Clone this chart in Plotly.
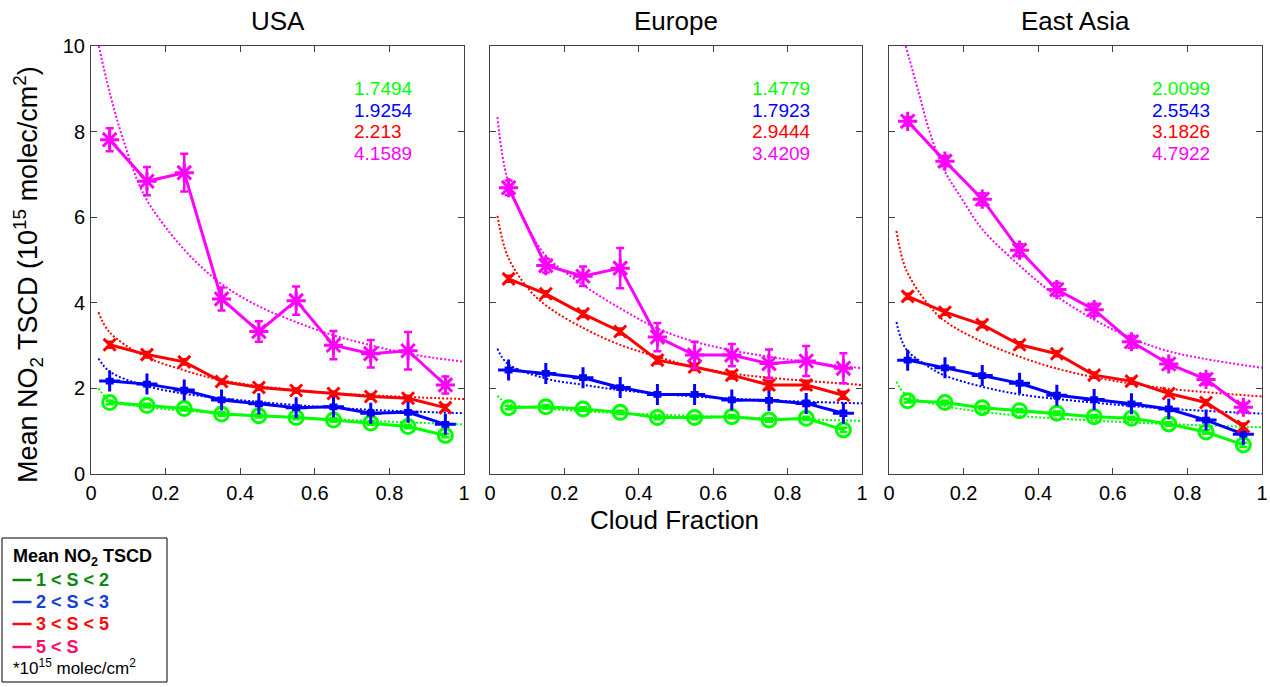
import plotly.graph_objects as go

# ---------------- data ----------------
cloud_fraction = [0.05, 0.15, 0.25, 0.35, 0.45, 0.55, 0.65, 0.75, 0.85, 0.95]
regions = ["USA", "Europe", "East Asia"]
series_labels = ["1 < S < 2", "2 < S < 3", "3 < S < 5", "5 < S"]

usa_s12 = [1.67, 1.60, 1.53, 1.40, 1.36, 1.32, 1.26, 1.19, 1.11, 0.90]
usa_s23 = [2.17, 2.10, 1.96, 1.73, 1.64, 1.55, 1.57, 1.42, 1.44, 1.16]
usa_s35 = [3.02, 2.79, 2.62, 2.16, 2.02, 1.95, 1.88, 1.81, 1.77, 1.55]
usa_s5 = [7.81, 6.84, 7.04, 4.09, 3.33, 4.05, 3.01, 2.81, 2.88, 2.08]
usa_s12_err = [0.04, 0.04, 0.04, 0.04, 0.04, 0.04, 0.04, 0.04, 0.04, 0.04]
usa_s23_err = [0.05, 0.05, 0.05, 0.05, 0.05, 0.05, 0.05, 0.05, 0.05, 0.05]
usa_s35_err = [0.07, 0.06, 0.06, 0.05, 0.05, 0.05, 0.05, 0.05, 0.06, 0.06]
usa_s5_err = [0.27, 0.33, 0.44, 0.27, 0.24, 0.33, 0.33, 0.32, 0.44, 0.20]

eu_s12 = [1.55, 1.57, 1.52, 1.44, 1.32, 1.32, 1.34, 1.26, 1.30, 1.03]
eu_s23 = [2.43, 2.35, 2.25, 2.02, 1.86, 1.86, 1.73, 1.72, 1.65, 1.42]
eu_s35 = [4.56, 4.21, 3.74, 3.33, 2.66, 2.50, 2.31, 2.08, 2.08, 1.84]
eu_s5 = [6.69, 4.87, 4.62, 4.81, 3.20, 2.78, 2.78, 2.58, 2.64, 2.47]
eu_s12_err = [0.04, 0.04, 0.04, 0.04, 0.04, 0.04, 0.04, 0.04, 0.04, 0.05]
eu_s23_err = [0.05, 0.05, 0.05, 0.05, 0.05, 0.05, 0.05, 0.05, 0.06, 0.06]
eu_s35_err = [0.07, 0.06, 0.07, 0.07, 0.08, 0.07, 0.08, 0.10, 0.10, 0.08]
eu_s5_err = [0.17, 0.16, 0.23, 0.47, 0.33, 0.31, 0.26, 0.33, 0.35, 0.35]

ea_s12 = [1.71, 1.67, 1.55, 1.48, 1.42, 1.34, 1.30, 1.17, 0.98, 0.68]
ea_s23 = [2.66, 2.48, 2.30, 2.12, 1.84, 1.74, 1.64, 1.52, 1.26, 0.93]
ea_s35 = [4.15, 3.78, 3.49, 3.02, 2.81, 2.31, 2.17, 1.88, 1.67, 1.11]
ea_s5 = [8.24, 7.31, 6.42, 5.23, 4.31, 3.84, 3.09, 2.57, 2.21, 1.56]
ea_s12_err = [0.04, 0.04, 0.04, 0.04, 0.04, 0.04, 0.04, 0.04, 0.04, 0.05]
ea_s23_err = [0.05, 0.05, 0.05, 0.05, 0.05, 0.05, 0.05, 0.05, 0.05, 0.05]
ea_s35_err = [0.06, 0.06, 0.06, 0.06, 0.06, 0.06, 0.06, 0.06, 0.06, 0.07]
ea_s5_err = [0.10, 0.12, 0.14, 0.14, 0.15, 0.14, 0.14, 0.10, 0.12, 0.10]

# dotted fitted curves
usa_fit12_x = [0.02, 0.049, 0.139, 0.35, 0.55, 0.75, 1.0]
usa_fit12_y = [2.0, 1.73, 1.57, 1.42, 1.32, 1.24, 1.16]
usa_fit23_x = [0.02, 0.049, 0.139, 0.247, 0.35, 0.55, 0.75, 1.0]
usa_fit23_y = [2.70, 2.40, 2.08, 1.88, 1.77, 1.61, 1.50, 1.42]
usa_fit35_x = [0.02, 0.049, 0.139, 0.247, 0.35, 0.55, 0.75, 1.0]
usa_fit35_y = [3.78, 3.32, 2.77, 2.43, 2.19, 1.96, 1.84, 1.75]
usa_fit5_x = [0.021, 0.049, 0.085, 0.139, 0.197, 0.265, 0.35, 0.445, 0.55, 0.65, 0.75, 0.85, 1.0]
usa_fit5_y = [10.0, 8.95, 7.85, 6.57, 5.80, 5.10, 4.44, 3.94, 3.55, 3.24, 3.01, 2.81, 2.62]

eu_fit12_x = [0.02, 0.047, 0.15, 0.352, 0.55, 0.75, 1.0]
eu_fit12_y = [1.83, 1.65, 1.53, 1.42, 1.36, 1.30, 1.24]
eu_fit23_x = [0.02, 0.047, 0.15, 0.253, 0.352, 0.55, 0.75, 1.0]
eu_fit23_y = [2.93, 2.58, 2.23, 2.08, 1.96, 1.81, 1.72, 1.65]
eu_fit35_x = [0.02, 0.047, 0.1, 0.15, 0.253, 0.352, 0.45, 0.55, 0.65, 0.75, 1.0]
eu_fit35_y = [6.03, 5.10, 4.36, 3.94, 3.40, 3.01, 2.74, 2.50, 2.35, 2.25, 2.08]
eu_fit5_x = [0.02, 0.047, 0.1, 0.15, 0.253, 0.352, 0.45, 0.55, 0.65, 0.75, 0.85, 1.0]
eu_fit5_y = [8.34, 6.88, 5.80, 5.10, 4.40, 3.86, 3.40, 3.09, 2.89, 2.74, 2.62, 2.47]

ea_fit12_x = [0.02, 0.045, 0.147, 0.35, 0.545, 0.74, 1.0]
ea_fit12_y = [2.16, 1.86, 1.59, 1.36, 1.25, 1.17, 1.09]
ea_fit23_x = [0.02, 0.045, 0.1, 0.147, 0.25, 0.35, 0.545, 0.74, 1.0]
ea_fit23_y = [3.55, 2.93, 2.54, 2.31, 2.04, 1.86, 1.67, 1.53, 1.41]
ea_fit35_x = [0.02, 0.045, 0.1, 0.147, 0.25, 0.35, 0.447, 0.545, 0.643, 0.74, 1.0]
ea_fit35_y = [5.68, 4.79, 4.02, 3.59, 3.09, 2.74, 2.47, 2.27, 2.12, 2.0, 1.81]
ea_fit5_x = [0.045, 0.08, 0.107, 0.147, 0.196, 0.25, 0.35, 0.447, 0.545, 0.643, 0.74, 0.84, 1.0]
ea_fit5_y = [10.0, 8.9, 8.05, 7.12, 6.42, 5.72, 4.87, 4.17, 3.63, 3.20, 2.89, 2.70, 2.48]

usa_coef = ["1.7494", "1.9254", "2.213", "4.1589"]
eu_coef = ["1.4779", "1.7923", "2.9444", "3.4209"]
ea_coef = ["2.0099", "2.5543", "3.1826", "4.7922"]

x_tick_vals = [0, 0.2, 0.4, 0.6, 0.8, 1.0]
x_tick_text = ["0", "0.2", "0.4", "0.6", "0.8", "1"]
y_tick_vals = [0, 2, 4, 6, 8, 10]
y_tick_text = ["0", "2", "4", "6", "8", "10"]

# ---------------- styles ----------------
colors = ["#00FF00", "#0000FF", "#FF0000", "#FF00FF"]
legend_colors = ["#0A8A0A", "#1442D0", "#FF0A0A", "#FF0A6E"]
symbols = ["circle-open", "cross-thin-open", "x-thin-open", "asterisk-open"]
msizes = [14, 15, 12, 16]
FONT = "Arial, Liberation Sans, sans-serif"

panel_data = [
    ([usa_s12, usa_s23, usa_s35, usa_s5], [usa_s12_err, usa_s23_err, usa_s35_err, usa_s5_err],
     [(usa_fit12_x, usa_fit12_y), (usa_fit23_x, usa_fit23_y), (usa_fit35_x, usa_fit35_y), (usa_fit5_x, usa_fit5_y)],
     usa_coef),
    ([eu_s12, eu_s23, eu_s35, eu_s5], [eu_s12_err, eu_s23_err, eu_s35_err, eu_s5_err],
     [(eu_fit12_x, eu_fit12_y), (eu_fit23_x, eu_fit23_y), (eu_fit35_x, eu_fit35_y), (eu_fit5_x, eu_fit5_y)],
     eu_coef),
    ([ea_s12, ea_s23, ea_s35, ea_s5], [ea_s12_err, ea_s23_err, ea_s35_err, ea_s5_err],
     [(ea_fit12_x, ea_fit12_y), (ea_fit23_x, ea_fit23_y), (ea_fit35_x, ea_fit35_y), (ea_fit5_x, ea_fit5_y)],
     ea_coef),
]

W, H = 1270, 687
ML, MR, MT, MB = 91, 8, 46, 213
PW = W - ML - MR
PH = H - MT - MB


def px_x(px):
    return (px - ML) / PW


def px_y(py):
    return (H - MB - py) / PH


domains = [[0, px_x(464)], [px_x(490), px_x(862)], [px_x(889), 1.0]]

fig = go.Figure()
annotations = []

for i, (vals, errs, fits, coefs) in enumerate(panel_data):
    xa = "x" if i == 0 else f"x{i+1}"
    ya = "y" if i == 0 else f"y{i+1}"
    for k in range(4):
        fx, fy = fits[k]
        fig.add_trace(go.Scatter(
            x=fx, y=fy, mode="lines", xaxis=xa, yaxis=ya, showlegend=False,
            line=dict(color=colors[k], width=2, dash="2px,2px", shape="spline", smoothing=1.0),
            hoverinfo="skip"))
    for k in range(4):
        fig.add_trace(go.Scatter(
            x=cloud_fraction, y=vals[k], mode="lines+markers", xaxis=xa, yaxis=ya,
            showlegend=False, name=series_labels[k],
            line=dict(color=colors[k], width=3),
            marker=dict(symbol=symbols[k], size=msizes[k], color=colors[k],
                        line=dict(color=colors[k], width=3)),
            error_y=dict(type="data", array=errs[k], color=colors[k], thickness=2.5, width=4)))
    for k in range(4):
        annotations.append(dict(
            x=0.7, y=9.0 - 0.5 * k, xref=xa, yref=ya, text=coefs[k], showarrow=False,
            xanchor="left", yanchor="middle", font=dict(family=FONT, size=19, color=colors[k])))

axis_common = dict(range=[0, 1], showline=True, linecolor="#404040", linewidth=1, mirror="ticks",
                   ticks="inside", ticklen=6, tickcolor="#404040", showgrid=False, zeroline=False,
                   automargin=False, tickfont=dict(family=FONT, size=20, color="black"))

layout = dict(
    width=W, height=H, paper_bgcolor="white", plot_bgcolor="white",
    margin=dict(l=ML, r=MR, t=MT, b=MB, pad=0, autoexpand=False), showlegend=False,
)
for i in range(3):
    xk = "xaxis" if i == 0 else f"xaxis{i+1}"
    yk = "yaxis" if i == 0 else f"yaxis{i+1}"
    xa = "x" if i == 0 else f"x{i+1}"
    ya = "y" if i == 0 else f"y{i+1}"
    xd = dict(axis_common)
    xd.update(domain=domains[i], anchor=ya, tickvals=x_tick_vals, ticktext=x_tick_text,
              ticklabelstandoff=1)
    yd = dict(axis_common)
    yd.update(domain=[0, 1], anchor=xa, range=[0, 10], tickvals=y_tick_vals,
              ticktext=y_tick_text, showticklabels=(i == 0), ticklabelstandoff=1)
    layout[xk] = xd
    layout[yk] = yd
    annotations.append(dict(x=(domains[i][0] + domains[i][1]) / 2, y=px_y(21), xref="paper", yref="paper",
                            text=regions[i], showarrow=False, xanchor="center", yanchor="middle",
                            font=dict(family=FONT, size=26, color="black")))

annotations.append(dict(x=px_x(674), y=px_y(520), xref="paper", yref="paper", text="Cloud Fraction",
                        showarrow=False, xanchor="center", yanchor="middle",
                        font=dict(family=FONT, size=26, color="black")))
annotations.append(dict(x=px_x(28), y=px_y(275), xref="paper", yref="paper", textangle=-90,
                        text="Mean NO<sub>2</sub> TSCD (10<sup>15</sup> molec/cm<sup>2</sup>)",
                        showarrow=False, xanchor="center", yanchor="middle",
                        font=dict(family=FONT, size=27, color="black")))

# legend box
shapes = [dict(type="rect", xref="paper", yref="paper", x0=px_x(2), x1=px_x(167), y0=px_y(682), y1=px_y(538),
               line=dict(color="black", width=1), fillcolor="white")]
annotations.append(dict(x=px_x(11), y=px_y(557), xref="paper", yref="paper",
                        text="<b>Mean NO<sub>2</sub> TSCD</b>", showarrow=False, xanchor="left", yanchor="middle",
                        font=dict(family=FONT, size=18, color="black")))
entry_y = [580, 602, 624, 647]
for k in range(4):
    shapes.append(dict(type="line", xref="paper", yref="paper", x0=px_x(12.5), x1=px_x(31.5),
                       y0=px_y(entry_y[k]), y1=px_y(entry_y[k]), line=dict(color=legend_colors[k], width=2.5)))
    annotations.append(dict(x=px_x(34), y=px_y(entry_y[k]), xref="paper", yref="paper",
                            text=f"<b>{series_labels[k].replace('<', '&lt;')}</b>", showarrow=False,
                            xanchor="left", yanchor="middle",
                            font=dict(family=FONT, size=18, color=legend_colors[k])))
annotations.append(dict(x=px_x(11), y=px_y(667), xref="paper", yref="paper",
                        text="*10<sup>15</sup> molec/cm<sup>2</sup>",
                        showarrow=False, xanchor="left",
                        yanchor="middle", font=dict(family=FONT, size=17, color="black")))

layout["annotations"] = annotations
layout["shapes"] = shapes
fig.update_layout(**layout)
fig.write_html("out.html", config={"displayModeBar": False},
               post_script="document.body.style.margin='0px';document.body.style.overflow='hidden';")
